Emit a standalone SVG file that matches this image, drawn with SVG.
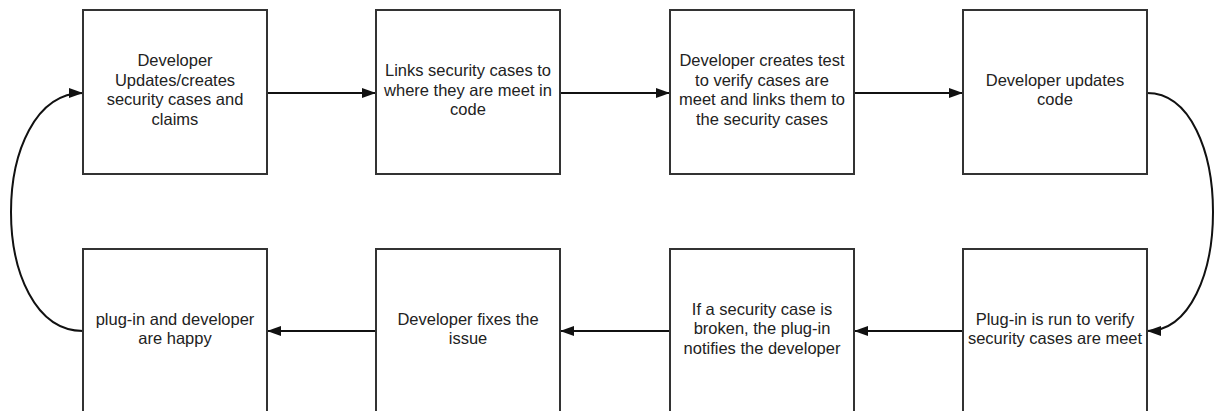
<svg xmlns="http://www.w3.org/2000/svg" width="1214" height="411" viewBox="0 0 1214 411">
<style>
.box{fill:#fff;stroke:#333;stroke-width:2}
.lbl{font-family:"Liberation Sans",Arial,sans-serif;font-size:16.5px;fill:#222;text-anchor:middle}
.con{fill:none;stroke:#111;stroke-width:2;marker-end:url(#arr)}
</style>
<defs>
<marker id="arr" markerUnits="userSpaceOnUse" markerWidth="15" markerHeight="11" refX="14" refY="5.5" orient="auto" viewBox="0 0 15 11">
<path d="M0,0.5 L14,5.5 L0,10.5 z" fill="#111"/>
</marker>
</defs>
<rect width="1214" height="411" fill="#fff"/>
<g id="connectors">
<path class="con" d="M267,93 L376,93"/>
<path class="con" d="M560,93 L670,93"/>
<path class="con" d="M854,93 L963,93"/>
<path class="con" d="M1147,93 C1235,93 1235,331 1147,331"/>
<path class="con" d="M963,331 L854,331"/>
<path class="con" d="M670,331 L560,331"/>
<path class="con" d="M376,331 L267,331"/>
<path class="con" d="M83,331 C-13,331 -13,93 83,93"/>
</g>
<g id="node1">
<rect class="box" x="83" y="10" width="184" height="164"/>
<text class="lbl" x="175" y="66.25">Developer</text>
<text class="lbl" x="175" y="85.75">Updates/creates</text>
<text class="lbl" x="175" y="105.25">security cases and</text>
<text class="lbl" x="175" y="124.75">claims</text>
</g>
<g id="node2">
<rect class="box" x="376" y="10" width="184" height="164"/>
<text class="lbl" x="468" y="76">Links security cases to</text>
<text class="lbl" x="468" y="95.5">where they are meet in</text>
<text class="lbl" x="468" y="115">code</text>
</g>
<g id="node3">
<rect class="box" x="670" y="10" width="184" height="164"/>
<text class="lbl" x="762" y="66.25">Developer creates test</text>
<text class="lbl" x="762" y="85.75">to verify cases are</text>
<text class="lbl" x="762" y="105.25">meet and links them to</text>
<text class="lbl" x="762" y="124.75">the security cases</text>
</g>
<g id="node4">
<rect class="box" x="963" y="10" width="184" height="164"/>
<text class="lbl" x="1055" y="85.75">Developer updates</text>
<text class="lbl" x="1055" y="105.25">code</text>
</g>
<g id="node8">
<rect class="box" x="963" y="249" width="184" height="170"/>
<text class="lbl" x="1055" y="324.5">Plug-in is run to verify</text>
<text class="lbl" x="1055" y="344">security cases are meet</text>
</g>
<g id="node7">
<rect class="box" x="670" y="249" width="184" height="170"/>
<text class="lbl" x="762" y="314.5">If a security case is</text>
<text class="lbl" x="762" y="334">broken, the plug-in</text>
<text class="lbl" x="762" y="353.5">notifies the developer</text>
</g>
<g id="node6">
<rect class="box" x="376" y="249" width="184" height="170"/>
<text class="lbl" x="468" y="324.5">Developer fixes the</text>
<text class="lbl" x="468" y="344">issue</text>
</g>
<g id="node5">
<rect class="box" x="83" y="249" width="184" height="170"/>
<text class="lbl" x="175" y="324.5">plug-in and developer</text>
<text class="lbl" x="175" y="344">are happy</text>
</g>
</svg>
